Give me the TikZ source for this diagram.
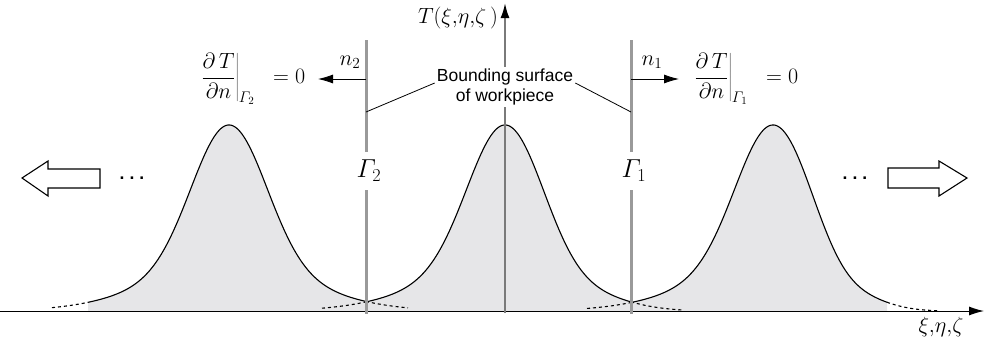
\RequirePackage{fix-cm}
\documentclass[tikz,border=0pt]{standalone}
\usepackage{fontspec}
\setsansfont{Liberation Sans}
\usetikzlibrary{arrows.meta}
\definecolor{fillg}{HTML}{E6E6E8}
\definecolor{gline}{HTML}{9A9A9A}
\definecolor{axg}{HTML}{7A7A7A}
\begin{document}
\begin{tikzpicture}[x=1pt,y=-1pt,
  declare function={
    tailstr(\d,\a) = \d+\a*\d*\d*\d;
    bump(\u) = 142*exp(-\u*\u/0.2738)+44*exp(-\u*\u/1.2168);
    prof(\d,\a) = 311-bump(tailstr(\d,\a));
  },
  curve/.style={line width=1.1pt, black},
  tailline/.style={line width=1.1pt, black, dash pattern=on 3pt off 3pt},
  boundline/.style={draw=gline, line width=3pt},
  tipA/.style={-{Latex[length=15pt,width=9pt]}},
  mathlbl/.style={inner sep=1pt},
  bigarrow/.style={line width=1.1pt, black, fill=white},
]
\useasboundingbox (0,0) rectangle (985,351);

% ---------- fills ----------
\fill[fillg] (88,311) -- plot[domain=88:366,samples=120] (\x,{prof(abs(\x-229)/100,0)}) -- (366,311) -- cycle;
\fill[fillg] (366,311) -- plot[domain=366:505,samples=100] (\x,{prof((505-\x)/100,0)})
  -- plot[domain=505:631,samples=100] (\x,{prof((\x-505)/100,0.065)}) -- (631,311) -- cycle;
\fill[fillg] (631,311) -- plot[domain=631:773,samples=100] (\x,{prof((773-\x)/100,0)})
  -- plot[domain=773:887,samples=100] (\x,{prof((\x-773)/100,0.18)}) -- (887,311) -- cycle;

% ---------- curves ----------
\draw[tailline] plot[domain=52:88,samples=20] (\x,{prof((229-\x)/100,0)});
\draw[curve] plot[domain=88:366,samples=160] (\x,{prof(abs(\x-229)/100,0)});
\draw[tailline] plot[domain=366:408,samples=20] (\x,{prof((\x-229)/100,0)});

\draw[tailline] plot[domain=322:366,samples=20] (\x,{prof((505-\x)/100,0)});
\draw[curve] plot[domain=366:505,samples=100] (\x,{prof((505-\x)/100,0)});
\draw[curve] plot[domain=505:631,samples=100] (\x,{prof((\x-505)/100,0.065)});
\draw[tailline] plot[domain=631:682,samples=20] (\x,{prof((\x-505)/100,0.065)});

\draw[tailline] plot[domain=587:631,samples=20] (\x,{prof((773-\x)/100,0)});
\draw[curve] plot[domain=631:773,samples=100] (\x,{prof((773-\x)/100,0)});
\draw[curve] plot[domain=773:887,samples=100] (\x,{prof((\x-773)/100,0.18)});
\draw[tailline] plot[domain=887:937,samples=20] (\x,{prof((\x-773)/100,0.18)});

% ---------- axes ----------
\coordinate (xa0) at (0,311);
\coordinate (xa1) at (984,311);
\draw[line width=1pt, tipA] (xa0) -- (xa1);
\coordinate (ya0) at (505,313);
\coordinate (ya1) at (505,3);
\draw[axg, line width=2pt, -{Latex[length=15pt,width=9pt,color=black]}] (ya0) -- (ya1);

% ---------- boundaries ----------
\coordinate (g2top) at (366,40);
\coordinate (g2bot) at (366,314);
\coordinate (g1top) at (631,40);
\coordinate (g1bot) at (631,314);
\path[boundline] (g2top) -- (g2bot);
\path[boundline] (g1top) -- (g1bot);

\node[fill=white, minimum height=38pt, inner sep=1pt, font=\fontsize{26}{28}\selectfont] (gam2) at (369,171) {$\mathnormal{\Gamma}_{2}$};
\node[fill=white, minimum height=38pt, inner sep=1pt, font=\fontsize{26}{28}\selectfont] (gam1) at (634,171) {$\mathnormal{\Gamma}_{1}$};

% ---------- central text ----------
\node[fill=white, align=center, inner sep=2pt, font=\sffamily\fontsize{17.5}{20}\selectfont] (bs) at (505,87) {Bounding surface\\of workpiece};
\coordinate (l2) at (366,112);
\coordinate (l1) at (631,112);
\draw[line width=0.8pt] ([yshift=4pt]bs.west) -- (l2);
\draw[line width=0.8pt] ([yshift=4pt]bs.east) -- (l1);

\node[anchor=east, mathlbl, font=\fontsize{22}{24}\selectfont] (tlab) at (499,18) {$T(\xi{,}\eta{,}\zeta\,)$};
\node[mathlbl, font=\fontsize{22}{24}\selectfont] (xlab) at (941,327) {$\xi{,}\eta{,}\zeta$};

% ---------- normals ----------
\coordinate (n2s) at (366,79);
\coordinate (n2e) at (318,79);
\coordinate (n1s) at (631,79);
\coordinate (n1e) at (679,79);
\draw[line width=0.8pt, tipA] (n2s) -- (n2e);
\draw[line width=0.8pt, tipA] (n1s) -- (n1e);
\node[mathlbl, font=\fontsize{22}{24}\selectfont] (n2lab) at (350,62) {$n_2$};
\node[mathlbl, font=\fontsize{22}{24}\selectfont] (n1lab) at (652,62) {$n_1$};

\node[anchor=west, mathlbl, font=\fontsize{22}{24}\selectfont] (bc2) at (199,79) {$\displaystyle \left.\frac{\partial\,T}{\partial n}\right|_{\mathnormal{\Gamma}_2}\;\; = 0$};
\node[anchor=west, mathlbl, font=\fontsize{22}{24}\selectfont] (bc1) at (692,79) {$\displaystyle \left.\frac{\partial\,T}{\partial n}\right|_{\mathnormal{\Gamma}_1}\;\; = 0$};

% ---------- hollow arrows and dots ----------
\draw[bigarrow] (22,178) -- (48,161) -- (48,169) -- (100,169) -- (100,188) -- (48,188) -- (48,196) -- cycle;
\draw[bigarrow] (967,178) -- (939,161) -- (939,168) -- (888,168) -- (888,188) -- (939,188) -- (939,196) -- cycle;
\node[inner sep=0pt, font=\sffamily\bfseries\fontsize{17.5}{20}\selectfont] (dotsl) at (132,178) {.\hspace{5pt}.\hspace{5pt}.};
\node[inner sep=0pt, font=\sffamily\bfseries\fontsize{17.5}{20}\selectfont] (dotsr) at (855,178) {.\hspace{5pt}.\hspace{5pt}.};
\end{tikzpicture}
\end{document}
